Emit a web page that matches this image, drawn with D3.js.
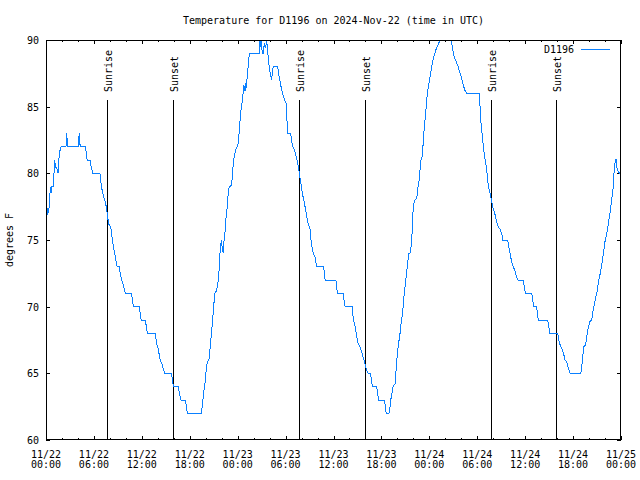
<!DOCTYPE html>
<html>
<head>
<meta charset="utf-8">
<script src="https://cdn.jsdelivr.net/npm/d3@7"></script>
<style>
  html, body { margin: 0; padding: 0; background: #fff; }
  svg { display: block; }
  text { font-family: "DejaVu Sans Mono", "Liberation Mono", monospace; font-size: 10px; fill: #000; }
</style>
</head>
<body>
<div id="chart"></div>
<script>
// ---------------- data ----------------
const titleText = "Temperature for D1196 on 2024-Nov-22 (time in UTC)";
const seriesName = "D1196";
const yLabel = "degrees F";
const startUTC = Date.UTC(2024, 10, 22, 0, 0);
const endUTC = Date.UTC(2024, 10, 25, 0, 0);

// hours since 2024-11-22 00:00 UTC
const hoursSinceStart = [
  0.00,0.10,0.20,0.35,0.45,0.55,0.65,0.75,0.90,1.00,1.08,1.20,1.40,1.50,1.60,1.75,1.90,2.50,2.60,2.70,
  4.05,4.15,4.28,4.95,5.05,5.15,5.55,5.65,5.85,6.75,6.85,6.95,7.10,7.35,7.55,7.70,7.85,8.05,8.20,8.30,
  8.45,8.60,8.75,8.90,9.15,9.30,9.45,9.60,9.80,9.95,10.72,10.82,10.95,11.70,11.80,11.92,12.45,12.58,12.70,13.70,
  13.80,13.95,14.10,14.20,14.35,14.55,14.70,14.90,15.72,15.80,15.95,16.58,16.70,16.90,17.45,17.60,17.70,19.45,19.55,19.65,
  19.80,19.95,20.05,20.20,20.40,20.50,20.62,20.78,20.92,21.05,21.16,21.35,21.50,21.66,21.78,21.95,22.05,22.20,22.30,22.45,
  22.55,22.70,22.80,22.95,23.25,23.37,23.55,23.72,23.95,24.10,24.22,24.38,24.50,24.62,24.78,24.92,25.00,25.04,25.20,25.34,
  25.46,26.72,26.80,26.88,26.95,27.08,27.22,27.34,27.45,27.55,27.63,27.75,27.90,28.10,28.26,28.38,28.50,29.00,29.10,29.30,
  29.50,29.72,29.95,30.12,30.20,30.28,30.64,30.76,30.90,31.10,31.30,31.50,31.68,31.80,32.00,32.20,32.35,32.55,32.72,32.90,
  33.05,33.18,33.30,33.47,33.65,33.78,33.90,34.72,34.85,34.95,36.30,36.40,36.52,37.22,37.34,37.45,38.36,38.48,38.68,38.90,
  39.10,39.32,39.52,39.72,39.94,40.15,40.36,40.64,40.76,40.90,41.40,41.55,41.68,42.40,42.50,42.60,42.95,43.08,43.22,43.30,
  43.45,43.70,43.83,44.00,44.12,44.33,44.45,44.60,44.75,44.87,45.02,45.16,45.29,45.45,45.58,45.70,45.82,45.90,46.00,46.20,
  46.42,46.54,46.75,46.92,47.13,47.25,47.38,47.58,47.75,48.00,48.21,48.42,48.63,48.84,49.13,49.34,49.50,50.00,50.60,50.72,
  50.90,51.01,51.20,51.34,51.55,51.76,52.05,52.26,52.47,52.68,54.26,54.35,54.47,54.64,54.76,54.97,55.18,55.30,55.47,55.68,
  55.81,56.02,56.23,56.44,56.65,56.85,57.06,57.20,57.80,57.90,58.10,58.30,58.50,58.72,58.94,59.10,59.77,59.90,60.05,60.82,
  60.94,61.10,61.44,61.56,61.64,62.82,62.92,63.10,64.08,64.24,64.45,64.62,64.80,65.00,65.20,65.40,65.62,66.98,67.08,67.22,
  67.30,67.55,67.70,67.90,68.12,68.33,68.45,68.66,68.87,69.04,69.16,69.37,69.58,69.79,70.00,70.20,70.41,70.62,70.83,71.04,
  71.15,71.25,71.38,71.50,71.67,71.87,72.00
];
const temperatureF = [
  78,77.6,77,77.2,78,79,78.5,79,79,80,81,80.5,80.3,80,81,81.7,82,82,83,82,
  82,83,82,82,81.5,81,81,80.5,80,80,79.5,79,78.5,78,77.5,76.8,76.2,76,75.7,75,
  74.5,74,73.5,73,73,72.5,72,71.8,71.3,71,71,70.4,70,70,69.4,69,69,68.4,68,68,
  67.4,67,66.8,66.2,65.9,65.7,65.3,65,65,64.6,64,64,63.5,63,63,62.4,62,62,62.5,63,
  63.8,64.4,65.2,65.9,66,66.6,67.4,68.4,69.4,70.4,71,71.2,71.6,72.6,74,75,74.5,74,75,75.8,
  76.7,77.5,78.4,79,79.1,80.2,81.2,81.7,82,82.3,83.4,84.6,85,85.7,86.6,86.2,86.8,86.4,87.2,88.2,
  89,89,90,89.5,90,89,89,89.8,89.4,89.6,90,89.2,88.2,87.4,87,87.8,88,88,87.6,86.9,
  86.3,85.8,85.4,85.2,83.5,83,83,82.4,82,81.8,81.3,80.8,80.2,79.7,78.9,78.2,77.8,77.1,76.5,76.1,
  75.9,75,74.5,74,73.8,73.4,73,73,72.6,72,72,71.4,71,71,70.4,70,70,69,68.6,67.8,
  67.2,67,66.6,66.2,65.7,65.2,65,65,64.4,64,64,63.4,63,63,62.4,62,62,62.5,63.2,63.4,
  64,64.2,65.2,66.5,67.1,68,68.7,69.3,70.2,71.1,71.8,72.6,73.3,74,74,74.4,75.3,76.5,77.6,78,
  78.1,78.8,79.6,80.9,81.3,82.5,83.5,84.8,86,86.9,87.7,88.4,88.9,89.3,89.7,90,90.6,91,90.6,90,
  89.4,89,88.6,88.4,88.1,87.7,87.1,86.6,86.2,86,86,85,83.8,82.8,82,81.1,80.3,79.5,78.8,78.3,
  77.9,77.3,76.9,76.3,76,75.8,75.5,75,75,74.7,74,73.4,73,72.7,72.2,72,72,71.4,71,71,
  70.5,70,70,69.3,69,69,68.6,68,68,67.4,67,66.8,66.5,66,65.9,65.4,65,65,65.5,66.2,
  67,67.1,67.7,68.4,68.9,69,69.5,70.2,70.8,71.2,71.8,72.4,73.1,74,74.9,75.4,76.2,77,78,79,
  80.3,80.8,81.1,80.4,80.1,80,80
];
const sunEvents = [
  { label: "Sunrise", time: "2024-11-22T07:41:00Z" },
  { label: "Sunset",  time: "2024-11-22T15:56:00Z" },
  { label: "Sunrise", time: "2024-11-23T07:43:00Z" },
  { label: "Sunset",  time: "2024-11-23T15:56:00Z" },
  { label: "Sunrise", time: "2024-11-24T07:44:00Z" },
  { label: "Sunset",  time: "2024-11-24T15:55:00Z" }
];
const yTickValues = [60, 65, 70, 75, 80, 85, 90];
const yDomain = [60, 90];

// ---------------- layout ----------------
const W = 640, H = 480;
const plot = { left: 46, right: 621, top: 40, bottom: 440 };
const lineColor = "#0a80ff";

const svg = d3.select("#chart").append("svg")
  .attr("width", W).attr("height", H)
  .attr("viewBox", `0 0 ${W} ${H}`);

const x = d3.scaleUtc().domain([new Date(startUTC), new Date(endUTC)]).range([plot.left, plot.right]);
const y = d3.scaleLinear().domain(yDomain).range([plot.bottom, plot.top]);

const data = hoursSinceStart.map((h, i) => ({ t: new Date(startUTC + h * 3600e3), v: temperatureF[i] }));

// clip
svg.append("defs").append("clipPath").attr("id", "plotclip")
  .append("rect").attr("x", plot.left).attr("y", plot.top)
  .attr("width", plot.right - plot.left).attr("height", plot.bottom - plot.top);

// title
svg.append("text").attr("x", (plot.left + plot.right) / 2).attr("y", 23.5)
  .attr("text-anchor", "middle").text(titleText);

// y label
svg.append("text").attr("transform", `translate(12.5,${(plot.top + plot.bottom) / 2}) rotate(-90)`)
  .attr("text-anchor", "middle").text(yLabel);

// axes using d3 axis generators
const majorTicks = d3.utcHour.every(6).range(new Date(startUTC), new Date(endUTC + 1));
const minorTicks = d3.utcHour.every(2).range(new Date(startUTC), new Date(endUTC + 1))
  .filter(d => d.getUTCHours() % 6 !== 0);
const fmtDate = d3.utcFormat("%m/%d");
const fmtTime = d3.utcFormat("%H:%M");

function styleAxis(g) {
  g.select(".domain").remove();
  g.selectAll(".tick line").attr("stroke", "#000").attr("shape-rendering", "crispEdges");
  g.selectAll(".tick text").attr("font-family", null).attr("font-size", null).attr("fill", "#000");
}

// bottom major
const gxB = svg.append("g").attr("transform", `translate(0,${plot.bottom})`)
  .call(d3.axisBottom(x).tickValues(majorTicks).tickSizeInner(-4).tickSizeOuter(0).tickFormat(() => ""));
styleAxis(gxB);
gxB.selectAll(".tick text").remove();
// labels (two lines)
const xl = svg.append("g");
majorTicks.forEach(d => {
  const t = xl.append("text").attr("x", x(d)).attr("text-anchor", "middle");
  t.append("tspan").attr("x", x(d)).attr("y", 458.3).text(fmtDate(d));
  t.append("tspan").attr("x", x(d)).attr("y", 468.3).text(fmtTime(d));
});
// bottom minor
styleAxis(svg.append("g").attr("transform", `translate(0,${plot.bottom})`)
  .call(d3.axisBottom(x).tickValues(minorTicks).tickSizeInner(-2).tickSizeOuter(0).tickFormat(() => "")));
// top major + minor
styleAxis(svg.append("g").attr("transform", `translate(0,${plot.top})`)
  .call(d3.axisTop(x).tickValues(majorTicks).tickSizeInner(-4).tickSizeOuter(0).tickFormat(() => "")));
styleAxis(svg.append("g").attr("transform", `translate(0,${plot.top})`)
  .call(d3.axisTop(x).tickValues(minorTicks).tickSizeInner(-2).tickSizeOuter(0).tickFormat(() => "")));

// left axis with labels
const gyL = svg.append("g").attr("transform", `translate(${plot.left},0)`)
  .call(d3.axisLeft(y).tickValues(yTickValues).tickSizeInner(-4).tickSizeOuter(0).tickPadding(7).tickFormat(d3.format("d")));
styleAxis(gyL);
gyL.selectAll(".tick text").attr("x", -7).attr("dy", "0.36em");
// right axis mirror
styleAxis(svg.append("g").attr("transform", `translate(${plot.right},0)`)
  .call(d3.axisRight(y).tickValues(yTickValues).tickSizeInner(-4).tickSizeOuter(0).tickFormat(() => "")));

// sunrise / sunset markers
const sunG = svg.append("g");
const lineTopY = plot.bottom - 0.85 * (plot.bottom - plot.top);
const labelStartY = plot.bottom - 0.87 * (plot.bottom - plot.top);
sunEvents.forEach(ev => {
  const xx = Math.round(x(new Date(ev.time))) + 0.5;
  sunG.append("line").attr("x1", xx).attr("x2", xx).attr("y1", lineTopY).attr("y2", plot.bottom)
    .attr("stroke", "#000").attr("stroke-width", 1).attr("shape-rendering", "crispEdges");
  sunG.append("text").attr("transform", `translate(${xx + 4.5},${labelStartY}) rotate(-90)`)
    .attr("text-anchor", "start").text(ev.label);
});

// data line
svg.append("path").datum(data)
  .attr("clip-path", "url(#plotclip)")
  .attr("fill", "none").attr("stroke", lineColor).attr("stroke-width", 1)
  .attr("shape-rendering", "crispEdges")
  .attr("d", d3.line().x(d => x(d.t)).y(d => y(d.v)));

// border
svg.append("rect").attr("x", plot.left + 0.5).attr("y", plot.top + 0.5)
  .attr("width", plot.right - plot.left - 1).attr("height", plot.bottom - plot.top - 1)
  .attr("fill", "none").attr("stroke", "#000").attr("shape-rendering", "crispEdges");

// legend
svg.append("text").attr("x", 574).attr("y", 52.5).attr("text-anchor", "end").text(seriesName);
svg.append("line").attr("x1", 581).attr("x2", 610).attr("y1", 49.5).attr("y2", 49.5)
  .attr("stroke", lineColor).attr("stroke-width", 1).attr("shape-rendering", "crispEdges");
</script>
</body>
</html>
